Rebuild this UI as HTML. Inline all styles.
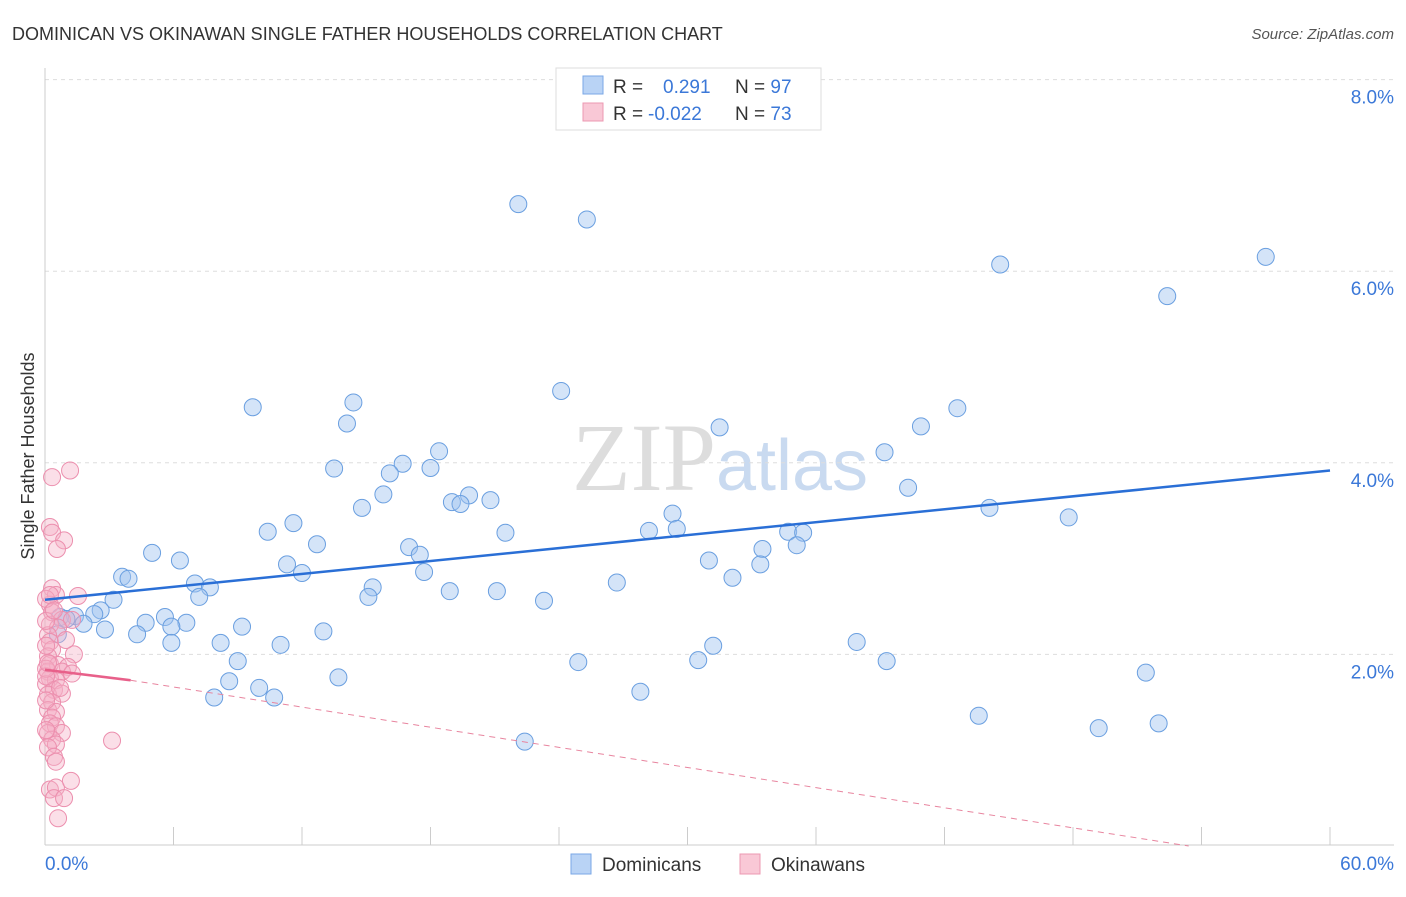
<!DOCTYPE html>
<html><head><meta charset="utf-8"><style>
body{margin:0;background:#fff;font-family:"Liberation Sans",sans-serif}
</style></head><body>
<svg id="c" width="1406" height="892" xmlns="http://www.w3.org/2000/svg">
<text x="12" y="40" font-size="18" fill="#333">DOMINICAN VS OKINAWAN SINGLE FATHER HOUSEHOLDS CORRELATION CHART</text>
<text x="1394" y="39" font-size="15" fill="#555" font-style="italic" text-anchor="end">Source: ZipAtlas.com</text>
<text x="720" y="490" font-size="96" fill="#ddd" text-anchor="middle" font-family="Liberation Serif">ZIP<tspan fill="#c9daf0" font-family="Liberation Sans" font-size="72">atlas</tspan></text>
<text transform="translate(34,456) rotate(-90)" font-size="18" fill="#333" text-anchor="middle">Single Father Households</text>
<g id="grid"></g><g id="pts"></g><g id="lines"></g>
<g>
<rect x="556" y="68" width="265" height="62" fill="#fff" stroke="#ddd"/>
<rect x="583" y="76" width="20" height="18" fill="#b9d3f5" stroke="#7aa7e6"/>
<rect x="583" y="103" width="20" height="18" fill="#f9c8d6" stroke="#ec98b2"/>
<text x="613" y="93" font-size="19" fill="#333">R = <tspan x="663" fill="#3b78d8">0.291</tspan><tspan x="735" fill="#333">N = </tspan><tspan fill="#3b78d8">97</tspan></text>
<text x="613" y="120" font-size="19" fill="#333">R = <tspan x="648" fill="#3b78d8">-0.022</tspan><tspan x="735" fill="#333">N = </tspan><tspan fill="#3b78d8">73</tspan></text>
</g>
<g>
<rect x="571" y="854" width="20" height="20" fill="#b9d3f5" stroke="#7aa7e6"/>
<text x="602" y="871" font-size="19" fill="#333">Dominicans</text>
<rect x="740" y="854" width="20" height="20" fill="#f9c8d6" stroke="#ec98b2"/>
<text x="771" y="871" font-size="19" fill="#333">Okinawans</text>
</g>
</svg>
<script>
const xTicks=[0,60];
const yTicks=[2,4,6,8];
const blueX=[22.1,25.3,44.6,57,52.4,24.1,9.7,14.4,42.6,14.1,31.5,40.9,39.2,18.4,16.7,13.5,18,16.1,40.3,15.8,19.8,19,19.4,20.8,14.8,44.1,47.8,29.3,11.6,10.4,21.5,28.2,29.5,34.7,35.4,12.7,35.1,17,33.5,5,17.5,6.3,31,11.3,33.4,17.7,12,3.6,3.9,32.1,26.7,7,7.7,15.3,18.9,21.1,7.2,15.1,3.2,23.3,2.6,2.3,1.4,0.7,1,5.6,4.7,1.8,6.6,5.9,9.2,2.8,13,4.3,0.6,5.9,8.2,11,37.9,31.2,9,24.9,30.5,39.3,51.4,8.6,13.7,10.0,27.8,7.9,10.7,43.6,52,49.2,22.4];
const blueY=[6.70,6.54,6.07,6.15,5.74,4.75,4.58,4.63,4.57,4.41,4.37,4.38,4.11,4.12,3.99,3.94,3.946,3.89,3.74,3.67,3.66,3.59,3.57,3.61,3.53,3.53,3.43,3.47,3.37,3.28,3.27,3.29,3.31,3.28,3.27,3.15,3.14,3.12,3.1,3.06,3.04,2.98,2.98,2.94,2.94,2.86,2.85,2.81,2.79,2.8,2.75,2.74,2.7,2.7,2.66,2.66,2.6,2.6,2.57,2.56,2.46,2.42,2.4,2.39,2.37,2.39,2.33,2.32,2.33,2.29,2.29,2.26,2.24,2.21,2.21,2.12,2.12,2.10,2.13,2.09,1.93,1.92,1.94,1.93,1.81,1.72,1.76,1.65,1.61,1.55,1.55,1.36,1.28,1.23,1.09];
const pinkX=[0.33,1.17,0.23,0.33,0.89,0.56,0.33,0.51,1.54,0.23,0.33,0.79,1.26,0.23,0.61,0.14,0.23,0.33,0.14,1.35,0.23,0.61,1.07,0.14,0.79,1.26,0.23,0.51,0.05,0.42,0.14,0.79,0.33,0.14,0.51,0.33,0.23,0.51,0.14,0.79,0.33,0.51,0.14,0.42,0.51,3.13,0.23,0.51,1.21,0.42,0.89,0.61,0.05,0.05,0.05,0.05,0.05,0.7,0.23,0.42,0.98,0.05,0.05,0.14];
const pinkY=[3.85,3.92,3.33,3.27,3.19,3.10,2.69,2.62,2.61,2.52,2.44,2.36,2.36,2.31,2.28,2.20,2.13,2.05,1.98,2.00,1.90,1.89,1.87,1.82,1.82,1.80,1.75,1.73,1.69,1.63,1.58,1.59,1.50,1.42,1.40,1.34,1.28,1.25,1.18,1.18,1.11,1.06,1.03,0.93,0.88,1.10,0.59,0.61,0.68,0.50,0.50,0.29,2.58,2.35,2.09,1.52,1.21,1.65,2.62,2.46,2.15,1.85,1.77,1.91];
const blueTrend=[0,2.57,60,3.92];
const pinkTrend=[0,1.84,4,1.73,53.4,0.0];
const X=v=>45+v*1285/60, Y=v=>846-v*95.8;
const NS='http://www.w3.org/2000/svg';
function mk(t,a,p){const e=document.createElementNS(NS,t);for(const k in a)e.setAttribute(k,a[k]);p.appendChild(e);return e;}
const g=document.getElementById('grid');
yTicks.forEach(t=>{
 const l=mk('line',{x1:45,x2:1394,y1:Y(t),y2:Y(t),stroke:'#ddd','stroke-dasharray':'4,4'},g);
 
 
 const tx=mk('text',{x:1394,y:Y(t)+24,'font-size':19,fill:'#3b78d8','text-anchor':'end'},g);
 tx.textContent=t.toFixed(1)+'%';
 
 
});
mk('line',{x1:45,x2:45,y1:68,y2:845,stroke:'#ccc'},g);
mk('line',{x1:45,x2:1394,y1:845,y2:845,stroke:'#ccc'},g);
for(let i=1;i<=10;i++){mk('line',{x1:X(i*6),x2:X(i*6),y1:827,y2:845,stroke:'#ccc'},g);}
xTicks.forEach((t,i)=>{
 const tx=mk('text',{x:i?1394:45,y:870,'font-size':19,fill:'#3b78d8','text-anchor':i?'end':'start'},g);
 tx.textContent=t.toFixed(1)+'%';
 
 
});
const P=document.getElementById('pts');
blueX.forEach((v,i)=>{
 const c=mk('circle',{cx:X(v),cy:Y(blueY[i]),r:8.5,fill:'rgba(160,196,240,0.45)',stroke:'#6a9fe0','stroke-width':1},P);
 
 
});
pinkX.forEach((v,i)=>{
 const c=mk('circle',{cx:X(v),cy:Y(pinkY[i]),r:8.5,fill:'rgba(246,176,198,0.4)',stroke:'#ec8fae','stroke-width':1},P);
 
 
});
const L=document.getElementById('lines');
const bl=mk('line',{x1:X(blueTrend[0]),y1:Y(blueTrend[1]),x2:X(blueTrend[2]),y2:Y(blueTrend[3]),stroke:'#2a6fd6','stroke-width':2.5},L);


const pl=mk('line',{x1:X(pinkTrend[0]),y1:Y(pinkTrend[1]),x2:X(pinkTrend[2]),y2:Y(pinkTrend[3]),stroke:'#e8608a','stroke-width':2.5},L);


const pd=mk('line',{x1:X(pinkTrend[2]),y1:Y(pinkTrend[3]),x2:X(pinkTrend[4]),y2:Y(pinkTrend[5]),stroke:'#e8859f','stroke-width':1,'stroke-dasharray':'6,5'},L);


</script>
</body></html>
